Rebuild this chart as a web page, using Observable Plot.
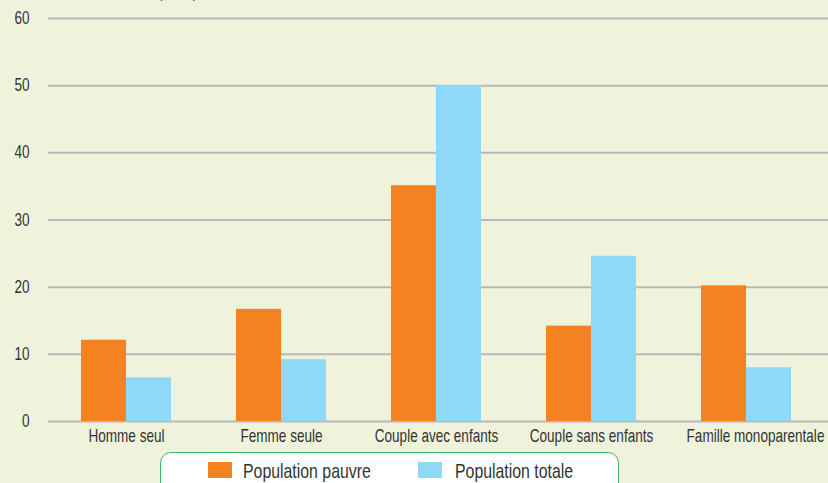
<!DOCTYPE html>
<html>
<head>
<meta charset="utf-8">
<script src="https://cdn.jsdelivr.net/npm/d3@7"></script>
<script src="https://cdn.jsdelivr.net/npm/@observablehq/plot@0.6"></script>
<style>
  html, body { margin: 0; padding: 0; background: #f0f3dc; overflow: hidden; }
  #wrap { position: relative; width: 828px; height: 483px; font-family: "Liberation Sans", Arial, sans-serif; color: #333; }
  #unit { position: absolute; left: 158px; top: -17px; font-size: 17.5px; line-height: 1; color: #444; transform: scaleX(0.76); transform-origin: left top; white-space: nowrap; }
  #legend { position: absolute; left: 160px; top: 452px; width: 459px; height: 45px; box-sizing: border-box; border: 1.5px solid #3cb66c; border-radius: 11px; background: #fff; }
  .sw { position: absolute; top: 9px; width: 24px; height: 16px; }
  .lt { position: absolute; top: 7px; font-size: 21px; line-height: 21px; color: #333; white-space: nowrap; transform: scaleX(0.755); transform-origin: left top; }
</style>
</head>
<body>
<div id="wrap">
  <div id="chart"></div>
  <div id="unit">(en %)</div>
  <div id="legend"></div>
</div>
<script>
const categories = ["Homme seul", "Femme seule", "Couple avec enfants", "Couple sans enfants", "Famille monoparentale"];
const pauvre = [12.1, 16.7, 35.1, 14.2, 20.2];
const totale = [6.5, 9.2, 50.0, 24.6, 8.0];
const seriesNames = ["Population pauvre", "Population totale"];
const seriesColors = ["#f58220", "#8fd8f7"];
const yTicks = [0, 10, 20, 30, 40, 50, 60];

const dataP = categories.map((c, i) => ({cat: c, value: pauvre[i]}));
const dataT = categories.map((c, i) => ({cat: c, value: totale[i]}));

const pi = 0.42, po = 0.21;
const width = 828, mL = 48, xEnd = 823;
const step = (xEnd - mL) / (categories.length - pi + 2 * po);
const half = step * (1 - pi) / 2;

const chart = Plot.plot({
  width: width,
  height: 452,
  marginLeft: mL,
  marginRight: 0,
  marginTop: 18,
  marginBottom: 31,
  style: {background: "transparent", fontFamily: "\"Liberation Sans\", Arial, sans-serif", fontSize: "17.5px", color: "#333", overflow: "visible"},
  x: {domain: categories, range: [mL, xEnd], paddingInner: pi, paddingOuter: po, label: null, tickSize: 0, tickPadding: 8},
  y: {domain: [0, 60], ticks: yTicks, label: null, tickSize: 0, tickPadding: 19},
  marks: [
    Plot.ruleY(yTicks, {stroke: "#b8b8b8", strokeWidth: 2}),
    Plot.barY(dataP, {x: "cat", y: "value", fill: seriesColors[0], insetRight: half}),
    Plot.barY(dataT, {x: "cat", y: "value", fill: seriesColors[1], insetLeft: half})
  ]
});
// condensed look: compress each axis label horizontally around its anchor
chart.querySelectorAll("g[aria-label$='tick label'] text").forEach(t => {
  const tr = t.getAttribute("transform") || "";
  const shift = t.textContent === "Famille monoparentale" ? " translate(9,0)" : "";
  t.setAttribute("transform", tr + shift + " scale(0.775,1)");
});
document.getElementById("chart").appendChild(chart);

const legend = document.getElementById("legend");
const swLeft = [46.5, 256.5];
const txtLeft = [81.5, 293.5];
seriesNames.forEach((n, i) => {
  const sw = document.createElement("div");
  sw.className = "sw";
  sw.style.left = swLeft[i] + "px";
  sw.style.background = seriesColors[i];
  legend.appendChild(sw);
  const t = document.createElement("div");
  t.className = "lt";
  t.style.left = txtLeft[i] + "px";
  t.textContent = n;
  legend.appendChild(t);
});
</script>
</body>
</html>
